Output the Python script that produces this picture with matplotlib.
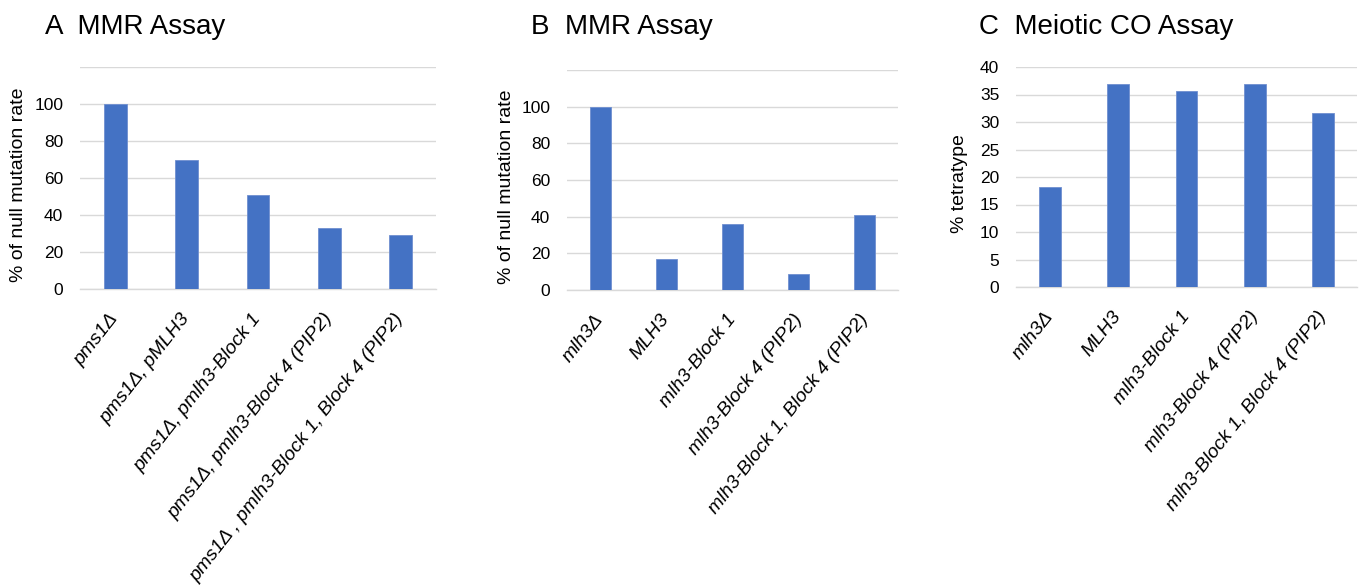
#bar charts for MMR and meiotic crossover assays
import matplotlib
matplotlib.use('Agg')
import matplotlib.pyplot as plt

plt.rcParams['font.family'] = ['Liberation Sans', 'DejaVu Sans']

#panel A data
a_labels = ['pms1Δ', 'pms1Δ, pMLH3', 'pms1Δ, pmlh3-Block 1',
            'pms1Δ, pmlh3-Block 4 (PIP2)', 'pms1Δ , pmlh3-Block 1, Block 4 (PIP2)']
a_values = [100, 70, 51, 33, 29]
#panel B data
b_labels = ['mlh3Δ', 'MLH3', 'mlh3-Block 1', 'mlh3-Block 4 (PIP2)',
            'mlh3-Block 1, Block 4 (PIP2)']
b_values = [100, 17, 36, 9, 41]
#panel C data
c_labels = ['mlh3Δ', 'MLH3', 'mlh3-Block 1', 'mlh3-Block 4 (PIP2)',
            'mlh3-Block 1, Block 4 (PIP2)']
c_values = [18.2, 37.0, 35.6, 37.0, 31.6]

bar_color = '#4472C4'
grid_color = '#D9D9D9'

fig = plt.figure(figsize=(13.62, 5.85), dpi=100)
W, H = 1362, 585

def make_panel(rect, labels, values, yticks, shown, ylabel, lab_x, title, title_x):
    ax = fig.add_axes(rect)
    x = list(range(len(values)))
    ax.bar(x, values, width=0.32, color=bar_color, edgecolor='#6F8FD0', linewidth=0.6, zorder=3)
    ax.set_xlim(-0.5, len(values) - 0.5)
    ax.set_ylim(yticks[0], yticks[-1])
    ax.set_yticks(yticks)
    ax.set_yticklabels([str(t) if t in shown else '' for t in yticks], fontsize=12.5)
    ax.yaxis.grid(True, color=grid_color, linewidth=1.0, zorder=0)
    ax.set_xticks(x)
    ax.set_xticklabels(labels, rotation=52, ha='right', va='center', rotation_mode='anchor',
                       fontsize=14, style='italic')
    ax.tick_params(axis='x', length=0, pad=19)
    ax.tick_params(axis='y', length=0, pad=12)
    for s in ['top', 'right', 'left']:
        ax.spines[s].set_visible(False)
    ax.spines['bottom'].set_color(grid_color)
    ax.spines['bottom'].set_linewidth(1.0)
    ax.set_ylabel(ylabel, fontsize=14)
    ax.yaxis.set_label_coords(lab_x, 0.47)
    fig.text(title_x / W, 1 - 34 / H, title, fontsize=20, va='baseline', ha='left')
    return ax

make_panel([80 / W, 1 - 289 / H, 356 / W, 222 / H], a_labels, a_values,
           [0, 20, 40, 60, 80, 100, 120], [0, 20, 40, 60, 80, 100],
           '% of null mutation rate', -0.149, 'A  MMR Assay', 45)
make_panel([567 / W, 1 - 290 / H, 331 / W, 220 / H], b_labels, b_values,
           [0, 20, 40, 60, 80, 100, 120], [0, 20, 40, 60, 80, 100],
           '% of null mutation rate', -0.157, 'B  MMR Assay', 531)
make_panel([1016 / W, 1 - 287 / H, 341 / W, 220 / H], c_labels, c_values,
           [0, 5, 10, 15, 20, 25, 30, 35, 40], [0, 5, 10, 15, 20, 25, 30, 35, 40],
           '% tetratype', -0.141, 'C  Meiotic CO Assay', 979)

fig.savefig('out.png', dpi=100)
